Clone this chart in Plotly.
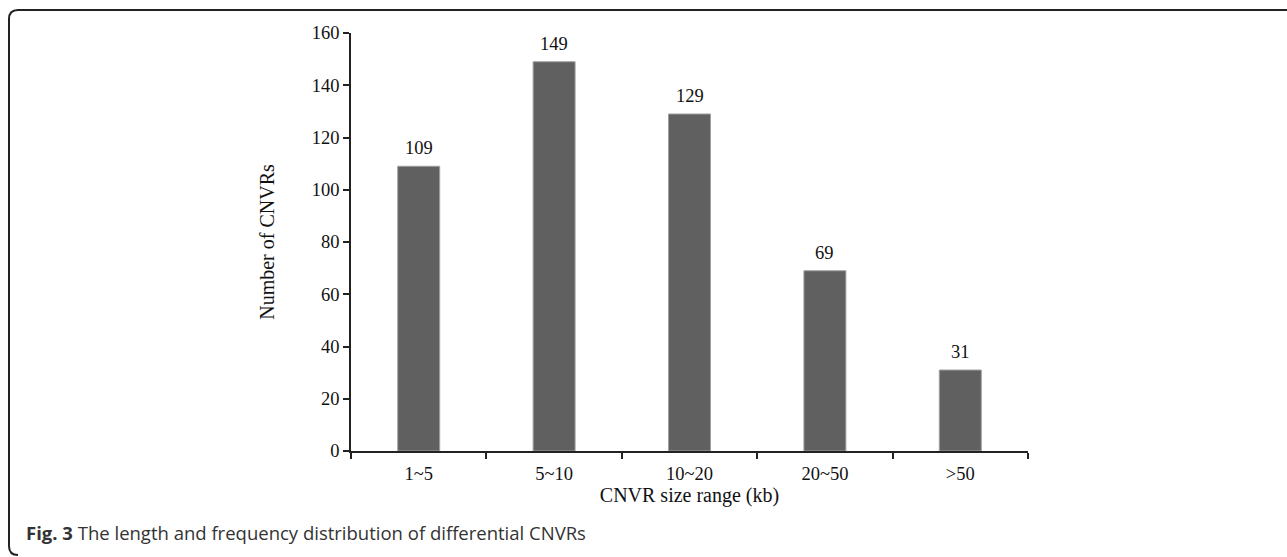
import plotly.graph_objects as go

categories = ["1~5", "5~10", "10~20", "20~50", ">50"]
counts = [109, 149, 129, 69, 31]
y_ticks = [0, 20, 40, 60, 80, 100, 120, 140, 160]

W, H = 1287, 557
L, R, T, B = 351, 259, 33, 106
pw, ph = W - L - R, H - T - B

def px_x(x):
    return (x - L) / pw

def px_y(y):
    return 1 - (y - T) / ph

serif = "Liberation Serif, Times New Roman, serif"

fig = go.Figure()
fig.add_trace(go.Bar(
    x=categories, y=counts,
    marker=dict(color="#606060", line=dict(color="#a0a0a0", width=1)),
    width=0.31,
))

for c, v in zip(categories, counts):
    fig.add_annotation(x=c, y=v, text=str(v), showarrow=False,
                       yanchor="bottom", yshift=6,
                       font=dict(family=serif, size=18.5, color="#111"))

# rounded frame
x0, y0 = px_x(9), px_y(10)
x1, y1 = px_x(1292), px_y(555)
rx, ry = 9 / pw, 9 / ph
path = (f"M {x1},{y0} L {x0+rx},{y0} Q {x0},{y0} {x0},{y0-ry} "
        f"L {x0},{y1+ry} Q {x0},{y1} {x0+rx},{y1}")
fig.add_shape(type="path", xref="paper", yref="paper", path=path,
              line=dict(color="#222", width=2))

fig.add_annotation(xref="paper", yref="paper", x=px_x(24), y=px_y(532),
                   xanchor="left", yanchor="middle", showarrow=False,
                   text="<b>Fig. 3</b> The length and frequency distribution of differential CNVRs",
                   font=dict(family="Open Sans, Noto Sans, sans-serif", size=18.5, color="#333"))

fig.update_layout(
    width=W, height=H,
    margin=dict(l=L, r=R, t=T, b=B),
    paper_bgcolor="white", plot_bgcolor="white",
    showlegend=False,
    bargap=0.69,
    font=dict(family=serif, size=18.5, color="#111"),
)
fig.update_xaxes(
    type="category", tickson="boundaries", ticks="outside", ticklen=6,
    tickwidth=1.5, tickcolor="#222", ticklabelstandoff=5,
    showline=True, linecolor="#222", linewidth=1.5, showgrid=False,
    tickfont=dict(family=serif, size=18.5, color="#111"),
    title=dict(text="CNVR size range (kb)", standoff=0,
               font=dict(family=serif, size=20, color="#111")),
)
fig.update_yaxes(
    range=[0, 160], tickvals=y_ticks, ticks="outside", ticklen=6,
    tickwidth=1.5, tickcolor="#222",
    showline=True, linecolor="#222", linewidth=1.5, showgrid=False,
    zeroline=False,
    tickfont=dict(family=serif, size=18.5, color="#111"),
    title=dict(text="Number of CNVRs", standoff=32,
               font=dict(family=serif, size=20, color="#111")),
)

fig.write_html("out.html", config={"displayModeBar": False},
               post_script="document.body.style.margin='0';document.body.style.overflow='hidden';")
